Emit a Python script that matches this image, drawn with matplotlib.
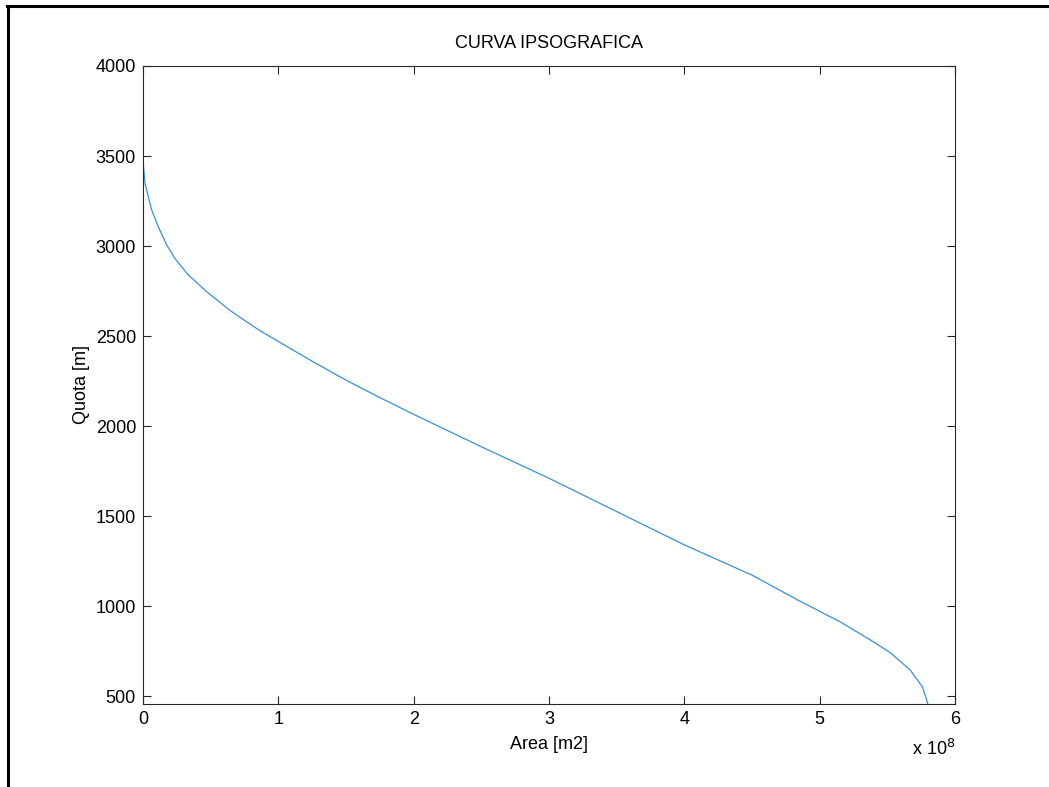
import matplotlib
matplotlib.use("Agg")
import matplotlib.pyplot as plt
from matplotlib.lines import Line2D
from matplotlib.ticker import FuncFormatter

plt.rcParams['font.family'] = ['Liberation Sans', 'DejaVu Sans']

# Hypsographic curve: cumulative area above each elevation
area_m2 = [0.0, 0.0025e8, 0.015e8, 0.064e8, 0.113e8, 0.175e8, 0.237e8, 0.335e8,
           0.471e8, 0.643e8, 0.853e8, 1.0e8, 1.25e8, 1.5e8, 1.75e8, 2.0e8, 2.5e8,
           3.0e8, 3.5e8, 4.0e8, 4.5e8, 4.84e8, 5.155e8, 5.4e8, 5.525e8, 5.67e8,
           5.76e8, 5.80e8]
quota_m = [3460, 3450, 3348, 3200, 3107, 3006, 2930, 2839,
           2746, 2642, 2535, 2470, 2360, 2255, 2158, 2065, 1885,
           1710, 1525, 1340, 1172, 1033, 911, 800, 739, 644,
           550, 456]

x_ticks = [0, 1e8, 2e8, 3e8, 4e8, 5e8, 6e8]
y_ticks = [500, 1000, 1500, 2000, 2500, 3000, 3500, 4000]

W, H = 1049, 787
fig = plt.figure(figsize=(W / 100, H / 100), dpi=100)
fig.patch.set_facecolor('white')

ax = fig.add_axes([143 / W, 1 - 704 / H, (955 - 143) / W, (704 - 66) / H])
ax.plot(area_m2, quota_m, color='#3590dc', lw=0.9)

ax.set_xlim(0, 6e8)
ax.set_ylim(456, 4000)
ax.set_xticks(x_ticks)
ax.set_yticks(y_ticks)
ax.xaxis.set_major_formatter(FuncFormatter(lambda v, p: f"{v / 1e8:g}"))

for s in ax.spines.values():
    s.set_color('#262626')
    s.set_linewidth(0.8)
ax.tick_params(direction='in', length=6, width=0.8, color='#262626',
               top=True, right=True, labelsize=13, pad=5)

ax.set_title('CURVA IPSOGRAFICA', fontsize=13, pad=13)
ax.set_xlabel('Area [m2]', fontsize=13, labelpad=6)
ax.set_ylabel('Quota [m]', fontsize=13, labelpad=4)

# exponent of the x axis
fig.text(912 / W, 1 - 755 / H, r'x 10$^{8}$', fontsize=13, ha='left', va='baseline')

# frame around the figure
fig.add_artist(Line2D([7 / W, 1.0], [1 - 6 / H, 1 - 6 / H], transform=fig.transFigure,
                      color='black', lw=2.2, solid_capstyle='projecting'))
fig.add_artist(Line2D([8 / W, 8 / W], [1 - 6 / H, 0.0], transform=fig.transFigure,
                      color='black', lw=2.2, solid_capstyle='projecting'))

fig.savefig('out.png', dpi=100)
